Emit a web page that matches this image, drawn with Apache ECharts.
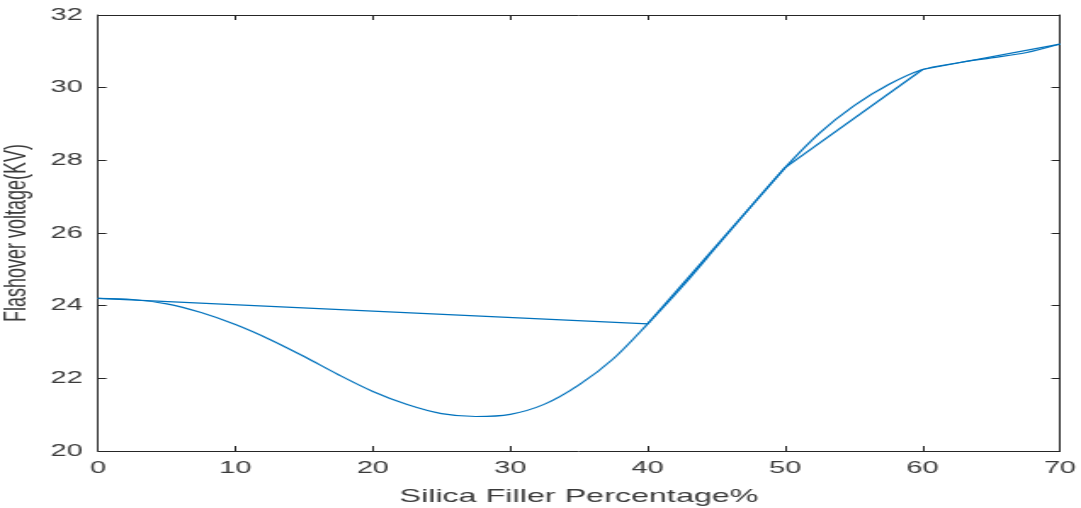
<!DOCTYPE html>
<html>
<head>
<meta charset="utf-8">
<title>Flashover voltage vs silica filler</title>
<script src="https://cdn.jsdelivr.net/npm/echarts@6/dist/echarts.min.js"></script>
<style>
  html, body { margin: 0; padding: 0; background: #ffffff; overflow: hidden; }
  /* The figure is laid out narrow and widened horizontally as a whole */
  #chart {
    width: 636px;
    height: 508px;
    transform: scaleX(1.6997);
    transform-origin: 0 0;
  }
</style>
</head>
<body>
<div id="chart"></div>
<script>
// Measured points: silica filler (%) and flashover voltage (kV)
var fillerPct = [0, 40, 50, 60, 70];
var flashoverKV = [24.2, 23.5, 27.8, 30.5, 31.2];

// Fitted curve through the measurements
var fitPct = [0, 2.5, 5, 7.5, 10, 12.5, 15, 17.5, 20, 22.5, 25, 27.5, 30, 32.5, 35,
              37.5, 40, 42.5, 45, 47.5, 50, 52.5, 55, 57.5, 60, 62.5, 65, 67.5, 70];
var fitKV = [24.2, 24.17, 24.05, 23.81, 23.48, 23.07, 22.6, 22.1, 21.64, 21.28, 21.03, 20.95, 21.01, 21.29, 21.82,
             22.54, 23.5, 24.52, 25.62, 26.72, 27.8, 28.75, 29.5, 30.08, 30.5, 30.68, 30.82, 30.96, 31.2];

// Axis ticks
var xTicks = [0, 10, 20, 30, 40, 50, 60, 70];
var yTicks = [20, 22, 24, 26, 28, 30, 32];

var axisColor = '#262626';
var textColor = '#3a3a3a';
var lineColor = '#0072BD';
var fontFamily = '"Liberation Sans", Arial, Helvetica, sans-serif';

function pairs(xs, ys) {
  return xs.map(function (x, i) { return [x, ys[i]]; });
}

var chart = echarts.init(document.getElementById('chart'), null, { renderer: 'canvas' });

var baseX = {
  type: 'value',
  min: xTicks[0],
  max: xTicks[xTicks.length - 1],
  interval: 10,
  axisLine: { show: true, onZero: false, lineStyle: { color: axisColor, width: 1 } },
  axisTick: { show: true, inside: true, length: 5, lineStyle: { color: axisColor, width: 1 } },
  splitLine: { show: false }
};
var baseY = {
  type: 'value',
  min: yTicks[0],
  max: yTicks[yTicks.length - 1],
  interval: 2,
  axisLine: { show: true, onZero: false, lineStyle: { color: axisColor, width: 1 } },
  axisTick: { show: true, inside: true, length: 5, lineStyle: { color: axisColor, width: 1 } },
  splitLine: { show: false }
};

chart.setOption({
  backgroundColor: '#ffffff',
  animation: false,
  grid: {
    left: 57.65,
    right: 12.4,
    top: 15,
    bottom: 57,
    containLabel: false,
    outerBoundsMode: 'none'
  },
  xAxis: [
    Object.assign({}, baseX, {
      position: 'bottom',
      name: 'Silica Filler Percentage%',
      nameLocation: 'middle',
      nameGap: 36,
      nameTextStyle: { color: textColor, fontFamily: fontFamily, fontSize: 19 },
      axisLabel: {
        show: true, margin: 9, color: textColor, fontFamily: fontFamily, fontSize: 17,
        formatter: function (v) { return String(v); }
      }
    }),
    Object.assign({}, baseX, { position: 'top', axisLabel: { show: false } })
  ],
  yAxis: [
    Object.assign({}, baseY, {
      position: 'left',
      name: 'Flashover voltage(KV)',
      nameLocation: 'middle',
      nameRotate: 90,
      nameGap: 35,
      nameTextStyle: { color: textColor, fontFamily: fontFamily, fontSize: 18 },
      axisLabel: {
        show: true, margin: 9, color: textColor, fontFamily: fontFamily, fontSize: 17,
        formatter: function (v) { return String(v); }
      }
    }),
    Object.assign({}, baseY, { position: 'right', axisLabel: { show: false } })
  ],
  series: [
    {
      name: 'Measured',
      type: 'line',
      xAxisIndex: 0,
      yAxisIndex: 0,
      data: pairs(fillerPct, flashoverKV),
      showSymbol: false,
      symbol: 'none',
      lineStyle: { color: lineColor, width: 1.2 },
      z: 3
    },
    {
      name: 'Fit',
      type: 'line',
      xAxisIndex: 0,
      yAxisIndex: 0,
      data: pairs(fitPct, fitKV),
      smooth: 0.3,
      showSymbol: false,
      symbol: 'none',
      lineStyle: { color: lineColor, width: 1.2 },
      z: 3
    }
  ]
});
</script>
</body>
</html>
